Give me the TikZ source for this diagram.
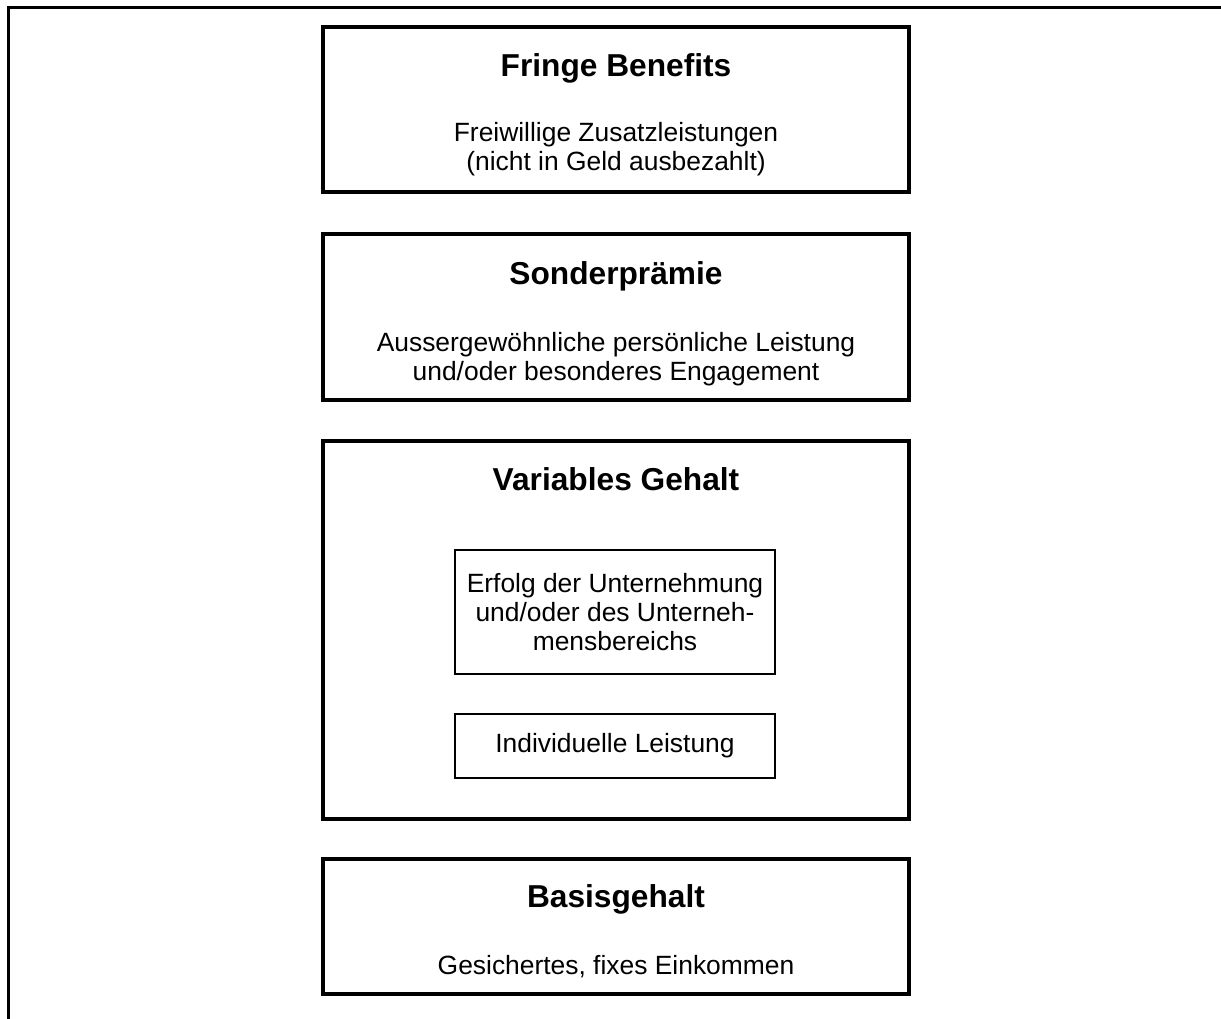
\documentclass[tikz,border=0pt]{standalone}
\usepackage{fontspec}
\setmainfont{Liberation Sans}
\usetikzlibrary{positioning}
\tikzset{
  level/.style={
    draw,
    line width=1.8pt,
    minimum width=266.3pt
  },
  part/.style={
    draw,
    line width=1pt,
    minimum width=145.4pt
  },
  head/.style={
    font=\fontsize{14.4}{16}\selectfont\bfseries,
    inner sep=0pt
  },
  body/.style={
    font=\fontsize{12}{13.3}\selectfont,
    align=center,
    inner sep=0pt
  }
}

\begin{document}
\begin{tikzpicture}[x=0.4545pt, y=-0.4545pt]
  \useasboundingbox (0,0) rectangle (1221,1019);
  \draw[line width=1.1pt] (8.5,1019) -- (8.5,7.5) -- (1221,7.5);
  % the four levels
  \node[level, minimum height=75pt] (fringe) at (616,109.5) {};
  \node[level, minimum height=75.4pt] (special) at (616,317) {};
  \node[level, minimum height=171.8pt] (variable) at (616,630) {};
  \node[level, minimum height=61.4pt] (base) at (616,926.5) {};
  \node[head, below=19.7pt of fringe.north, anchor=center] (fringeHead)
    {Fringe Benefits};
  \node[body, below=56.4pt of fringe.north, anchor=center] (fringeText)
    {Freiwillige Zusatzleistungen\\(nicht in Geld ausbezahlt)};
  \node[head, below=19.9pt of special.north, anchor=center] (specialHead)
    {Sonderprämie};
  \node[body, below=57.7pt of special.north, anchor=center] (specialText)
    {Aussergewöhnliche persönliche Leistung\\und/oder besonderes Engagement};
  \node[head, below=18.2pt of variable.north, anchor=center] (variableHead)
    {Variables Gehalt};
  \node[head, below=19.2pt of base.north, anchor=center] (baseHead)
    {Basisgehalt};
  \node[body, below=50pt of base.north, anchor=center] (baseText)
    {Gesichertes, fixes Einkommen};
  % parts of the variable salary
  \node[part, minimum height=56.4pt, body] (company) at (615,612)
    {Erfolg der Unternehmung\\und/oder des Unterneh-\\mensbereichs};
  \node[part, minimum height=29.1pt, body] (personal) at (615,746)
    {Individuelle Leistung};
\end{tikzpicture}
\end{document}
